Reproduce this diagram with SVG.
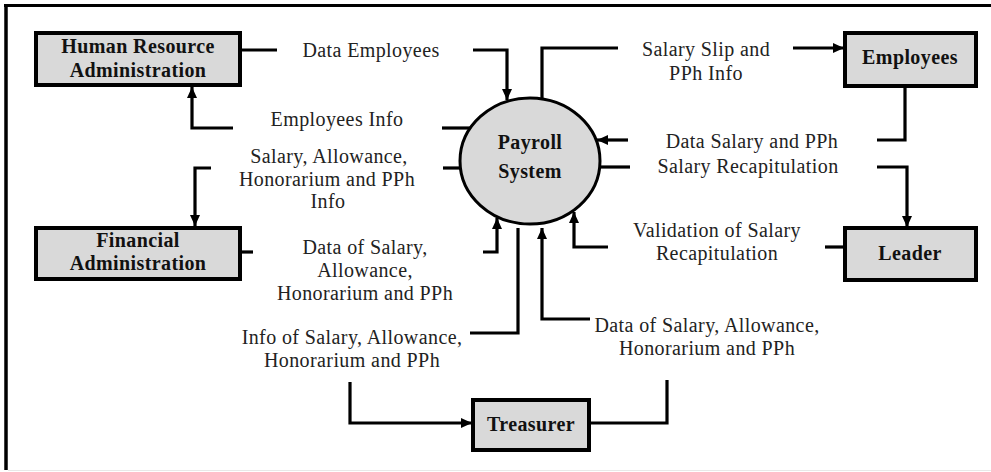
<svg xmlns="http://www.w3.org/2000/svg" width="991" height="472" viewBox="0 0 991 472">
<style>
.box{fill:#d9d9d9;stroke:#000;stroke-width:4}
.bt{font-family:"Liberation Serif",serif;font-weight:bold;font-size:20px;letter-spacing:0.4px;text-anchor:middle;fill:#111}
.lb{font-family:"Liberation Serif",serif;font-size:20px;letter-spacing:0.4px;text-anchor:middle;fill:#222}
.ln{fill:none;stroke:#000;stroke-width:3.2}
.ar{marker-end:url(#ah)}
</style>
<defs>
<marker id="ah" markerUnits="userSpaceOnUse" markerWidth="12" markerHeight="10" refX="11" refY="5" orient="auto">
<path d="M0,0 L11,5 L0,10 z" fill="#000"/>
</marker>
</defs>
<rect width="991" height="472" fill="#fff"/>
<g id="frame">
<line x1="4" y1="5.5" x2="991" y2="5.5" stroke="#000" stroke-width="3"/>
<line x1="6" y1="4" x2="6" y2="470" stroke="#000" stroke-width="3.5"/>
<line x1="8" y1="470.5" x2="991" y2="470.5" stroke="#e8e8e8" stroke-width="1"/>
</g>
<g id="connectors">
<path class="ln" d="M241,50 H277"/>
<path class="ln ar" d="M473,50 H507 V100"/>
<path class="ln" d="M542,99 V48 H618"/>
<path class="ln ar" d="M793,48 H844"/>
<path class="ln" d="M905,87 V140 H877"/>
<path class="ln ar" d="M628,140 H597"/>
<path class="ln" d="M599,167 H630"/>
<path class="ln ar" d="M877,167 H907 V227"/>
<path class="ln" d="M844,247 H825"/>
<path class="ln ar" d="M608,247 H574 V212"/>
<path class="ln" d="M241,252 H253"/>
<path class="ln ar" d="M483,252 H497 V218"/>
<path class="ln" d="M518,228 V333 H470"/>
<path class="ln ar" d="M350,382 V423 H472"/>
<path class="ln" d="M590,423 H667 V380"/>
<path class="ln ar" d="M590,319 H542 V228"/>
<path class="ln" d="M470,128 H442"/>
<path class="ln ar" d="M233,128 H192 V87"/>
<path class="ln" d="M461,168 H443"/>
<path class="ln ar" d="M211,168 H195 V226"/>
</g>
<g id="labels">
<text class="lb" x="371" y="57">Data Employees</text>
<text class="lb" x="337" y="126">Employees Info</text>
<text class="lb" x="329" y="163">Salary, Allowance,</text>
<text class="lb" x="327" y="186">Honorarium and PPh</text>
<text class="lb" x="328" y="208">Info</text>
<text class="lb" x="365" y="254">Data of Salary,</text>
<text class="lb" x="365" y="277">Allowance,</text>
<text class="lb" x="365" y="300">Honorarium and PPh</text>
<text class="lb" x="352" y="344">Info of Salary, Allowance,</text>
<text class="lb" x="352" y="367">Honorarium and PPh</text>
<text class="lb" x="706" y="56">Salary Slip and</text>
<text class="lb" x="706" y="80">PPh Info</text>
<text class="lb" x="752" y="148">Data Salary and PPh</text>
<text class="lb" x="748" y="173">Salary Recapitulation</text>
<text class="lb" x="717" y="237">Validation of Salary</text>
<text class="lb" x="717" y="260">Recapitulation</text>
<text class="lb" x="707" y="332">Data of Salary, Allowance,</text>
<text class="lb" x="707" y="355">Honorarium and PPh</text>
</g>
<g id="hra">
<rect class="box" x="36" y="33" width="204" height="52"/>
<text class="bt" x="138" y="53">Human Resource</text>
<text class="bt" x="138" y="77">Administration</text>
</g>
<g id="fa">
<rect class="box" x="36" y="228" width="204" height="51"/>
<text class="bt" x="138" y="247">Financial</text>
<text class="bt" x="138" y="270">Administration</text>
</g>
<g id="employees">
<rect class="box" x="845" y="33" width="131" height="53"/>
<text class="bt" x="910" y="64">Employees</text>
</g>
<g id="leader">
<rect class="box" x="845" y="228" width="131" height="52"/>
<text class="bt" x="910" y="260">Leader</text>
</g>
<g id="treasurer">
<rect class="box" x="473" y="400" width="116" height="50"/>
<text class="bt" x="531" y="431">Treasurer</text>
</g>
<g id="payroll">
<ellipse cx="530" cy="161" rx="70" ry="63" fill="#d9d9d9" stroke="#000" stroke-width="3"/>
<text class="bt" x="530" y="149">Payroll</text>
<text class="bt" x="530" y="178">System</text>
</g>
</svg>
